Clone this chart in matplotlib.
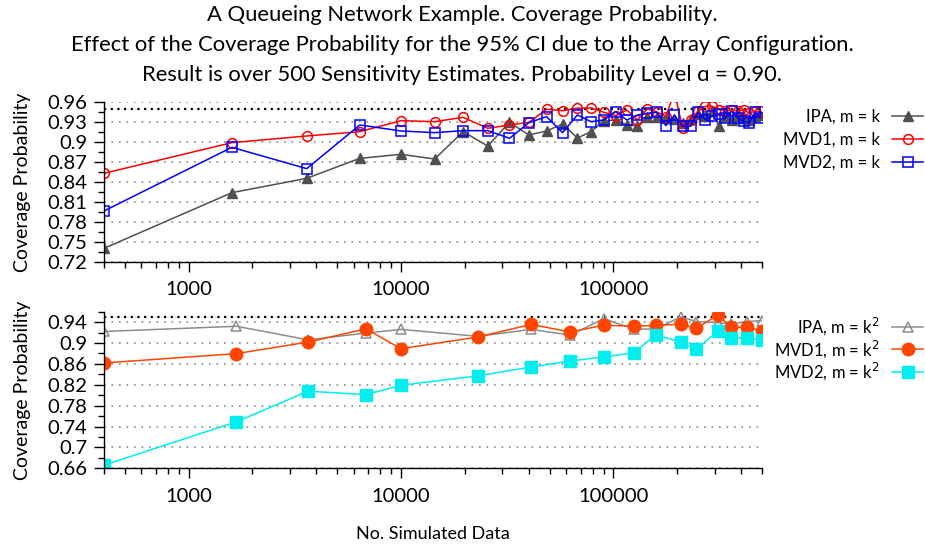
import matplotlib
matplotlib.use('Agg')
import matplotlib.pyplot as plt
from matplotlib.ticker import LogLocator, NullFormatter, AutoMinorLocator
import numpy as np

plt.rcParams['font.family'] = ['Lato', 'DejaVu Sans']

# top panel, m = k
n_top = [400, 1600, 3600, 6400, 10000, 14400, 19600, 25600, 32400, 40000, 48400,
         57600, 67600, 78400, 90000, 102400, 115600, 129600, 144400, 160000, 176400,
         193600, 211600, 230400, 250000, 270400, 291600, 313600, 336400, 360000,
         384400, 409600, 435600, 462400, 490000]
ipa_k = [0.7405, 0.824, 0.8455, 0.8755, 0.8815, 0.8745, 0.9155, 0.894, 0.9295, 0.9105,
         0.9165, 0.927, 0.906, 0.9155, 0.9315, 0.933, 0.9255, 0.9245, 0.938, 0.938,
         0.936, 0.935, 0.928, 0.934, 0.9425, 0.9385, 0.946, 0.9235, 0.9385, 0.9335,
         0.9385, 0.936, 0.9335, 0.9385, 0.941]
mvd1_k = [0.853, 0.899, 0.909, 0.9155, 0.932, 0.9305, 0.937, 0.9205, 0.9255, 0.9295,
          0.949, 0.947, 0.9505, 0.951, 0.9445, 0.9395, 0.948, 0.933, 0.9495, 0.945,
          0.938, 0.975, 0.9205, 0.9335, 0.946, 0.9535, 0.9535, 0.9485, 0.9465, 0.9485,
          0.946, 0.9485, 0.9435, 0.946, 0.946]
mvd2_k = [0.7965, 0.892, 0.860, 0.9255, 0.9165, 0.914, 0.917, 0.917, 0.9055, 0.929,
          0.938, 0.914, 0.9405, 0.9305, 0.933, 0.9455, 0.933, 0.9405, 0.943, 0.9445,
          0.9245, 0.940, 0.9235, 0.9235, 0.9445, 0.9335, 0.9385, 0.9425, 0.936, 0.946,
          0.936, 0.931, 0.9285, 0.9445, 0.936]

# bottom panel, m = k^2
n_bot = [400, 1680, 3660, 6840, 10000, 23000, 41000, 62500, 90000, 125000, 158000,
         207000, 245000, 310000, 357000, 426000, 500000]
ipa_k2 = [0.922, 0.932, 0.906, 0.919, 0.926, 0.9127, 0.926, 0.915, 0.9465, 0.9266,
          0.9266, 0.950, 0.941, 0.939, 0.9365, 0.941, 0.943]
mvd1_k2 = [0.8617, 0.8796, 0.9018, 0.927, 0.889, 0.9114, 0.9356, 0.921, 0.934, 0.932,
           0.9337, 0.936, 0.928, 0.9535, 0.930, 0.930, 0.923]
mvd2_k2 = [0.666, 0.749, 0.8077, 0.801, 0.819, 0.837, 0.854, 0.8655, 0.873, 0.8815,
           0.9155, 0.902, 0.8875, 0.923, 0.910, 0.910, 0.906]

top_ticks = [0.72, 0.75, 0.78, 0.81, 0.84, 0.87, 0.9, 0.93, 0.96]
top_ticklabels = ['0.72', '0.75', '0.78', '0.81', '0.84', '0.87', '0.9', '0.93', '0.96']
bot_ticks = [0.66, 0.7, 0.74, 0.78, 0.82, 0.86, 0.9, 0.94]
bot_ticklabels = ['0.66', '0.7', '0.74', '0.78', '0.82', '0.86', '0.9', '0.94']
x_ticks = [1000, 10000, 100000]
x_ticklabels = ['1000', '10000', '100000']
level = 0.95

title_lines = ['A Queueing Network Example. Coverage Probability.',
               'Effect of the Coverage Probability for the 95% CI due to the Array Configuration.',
               'Result is over 500 Sensitivity Estimates. Probability Level \u0251 = 0.90.']

fig = plt.figure(figsize=(9.25, 5.48), dpi=100)

for i, line in enumerate(title_lines):
    fig.text(0.5, 1 - (15 + 30 * i) / 548, line, ha='center', va='center', fontsize=15.8)

ax1 = fig.add_axes((0.1124, 0.5219, 0.7114, 0.292))
ax2 = fig.add_axes((0.1124, 0.1455, 0.7114, 0.2858))


def style(ax, ticks, labels, ylim):
    ax.set_xscale('log')
    ax.set_xlim(400, 500000)
    ax.set_ylim(*ylim)
    for s in ['top', 'right']:
        ax.spines[s].set_visible(False)
    ax.spines['left'].set_linewidth(1.0)
    ax.spines['bottom'].set_linewidth(1.0)
    ax.set_yticks(ticks)
    ax.set_yticklabels(labels)
    ax.yaxis.set_minor_locator(AutoMinorLocator(2))
    ax.set_xticks(x_ticks)
    ax.set_xticklabels(x_ticklabels)
    ax.xaxis.set_minor_locator(LogLocator(base=10, subs=np.arange(2, 10)))
    ax.xaxis.set_minor_formatter(NullFormatter())
    ax.tick_params(which='major', length=7, width=1, labelsize=14.5, direction='out')
    ax.tick_params(which='minor', length=4, width=1, direction='out')
    ax.tick_params(axis='x', pad=7)
    ax.tick_params(axis='y', pad=5)
    for t in ticks:
        ax.axhline(t, color='#8a8a8a', lw=1.2, ls=(0, (1, 3.5)), zorder=0)
    ax.axhline(level, color='black', lw=1.6, ls=(0, (1, 2)), zorder=0)
    ax.set_ylabel('Coverage Probability', fontsize=14, labelpad=12)


style(ax1, top_ticks, top_ticklabels, (0.72, 0.96))
style(ax2, bot_ticks, bot_ticklabels, (0.66, 0.96))

ax1.plot(n_top, ipa_k, color='#505050', lw=1.1, marker='^', ms=6.5,
         mfc='#505050', mec='#505050', label='IPA, m = k')
ax1.plot(n_top, mvd1_k, color='red', lw=1.1, marker='o', ms=7,
         mfc='none', mec='red', mew=1.1, label='MVD1, m = k')
ax1.plot(n_top, mvd2_k, color='blue', lw=1.1, marker='s', ms=7,
         mfc='none', mec='blue', mew=1.1, label='MVD2, m = k')

ax2.plot(n_bot, ipa_k2, color='#8c8c8c', lw=1.1, marker='^', ms=7,
         mfc='none', mec='#8c8c8c', mew=1.1, label='IPA, m = k$^2$')
ax2.plot(n_bot, mvd1_k2, color='#ff4500', lw=1.1, marker='o', ms=9,
         mfc='#ff4500', mec='#ff4500', label='MVD1, m = k$^2$')
ax2.plot(n_bot, mvd2_k2, color='#00eeee', lw=1.1, marker='s', ms=8.5,
         mfc='#00eeee', mec='#00eeee', label='MVD2, m = k$^2$')

for ax, top, sp in [(ax1, 1 - 109 / 548, 0.42), (ax2, 1 - 315 / 548, 0.05)]:
    ax.legend(loc='upper right', bbox_to_anchor=(0.998, top), bbox_transform=fig.transFigure,
              frameon=False, markerfirst=False, fontsize=12, handlelength=1.85,
              labelspacing=sp, handletextpad=0.75, borderaxespad=0.0, borderpad=0.0)

fig.text(0.468, 1 - 534 / 548, 'No. Simulated Data', ha='center', va='center', fontsize=13)

fig.savefig('out.png', dpi=100)
